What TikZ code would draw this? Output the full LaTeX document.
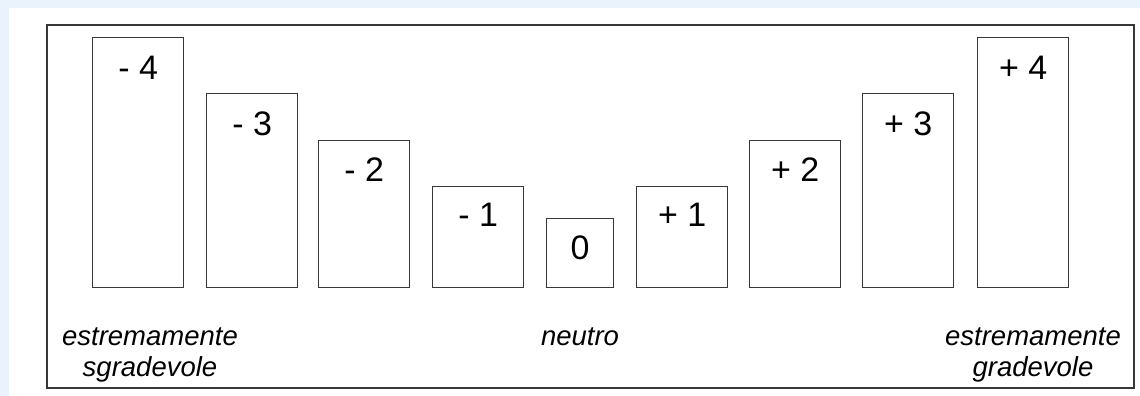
\documentclass[tikz,border=0pt]{standalone}
\usepackage{fontspec}
\setmainfont{Liberation Sans}
\definecolor{bgblue}{RGB}{234,243,252}
\definecolor{linegray}{RGB}{55,55,55}
\begin{document}
\begin{tikzpicture}[x=1pt,y=-1pt,
  bar/.style={draw=linegray, line width=1.3pt, fill=white, rectangle, inner sep=0pt, anchor=south west, minimum width=91pt},
  num/.style={anchor=base, inner sep=0pt, font=\fontsize{34}{40}\selectfont},
  caption/.style={align=center, inner sep=0pt, anchor=base, font=\fontsize{27.5}{31}\selectfont\itshape}]
\useasboundingbox (0,0) rectangle (1140,396);
\fill[bgblue] (0,0) rectangle (1140,396);
\fill[white] (9,8) rectangle (1140,396);
\draw[linegray, line width=1.3pt] (47,25) rectangle (1134,388);
% bars
\node[bar, minimum height=250pt] (m4) at (92,288) {};
\node[bar, minimum height=194pt] (m3) at (206,288) {};
\node[bar, minimum height=147pt] (m2) at (318,288) {};
\node[bar, minimum height=101pt] (m1) at (432,288) {};
\node[bar, minimum height=69pt, minimum width=67pt] (z0) at (546,288) {};
\node[bar, minimum height=101pt] (p1) at (636,288) {};
\node[bar, minimum height=147pt] (p2) at (749,288) {};
\node[bar, minimum height=194pt] (p3) at (862,288) {};
\node[bar, minimum height=250pt] (p4) at (977,288) {};
% numbers
\node[num] (tm4) at ([yshift=-43pt]m4.north) {- 4};
\node[num] (tm3) at ([yshift=-43pt]m3.north) {- 3};
\node[num] (tm2) at ([yshift=-42pt]m2.north) {- 2};
\node[num] (tm1) at ([yshift=-41pt]m1.north) {- 1};
\node[num] (tz0) at ([yshift=-42pt]z0.north) {0};
\node[num] (tp1) at ([yshift=-41pt]p1.north) {+ 1};
\node[num] (tp2) at ([yshift=-42pt]p2.north) {+ 2};
\node[num] (tp3) at ([yshift=-43pt]p3.north) {+ 3};
\node[num] (tp4) at ([yshift=-43pt]p4.north) {+ 4};
% captions
\node[caption] (lneg) at (150,376) {estremamente\\sgradevole};
\node[caption] (lneu) at (580,345) {neutro};
\node[caption] (lpos) at (1033,376) {estremamente\\gradevole};
\end{tikzpicture}
\end{document}
